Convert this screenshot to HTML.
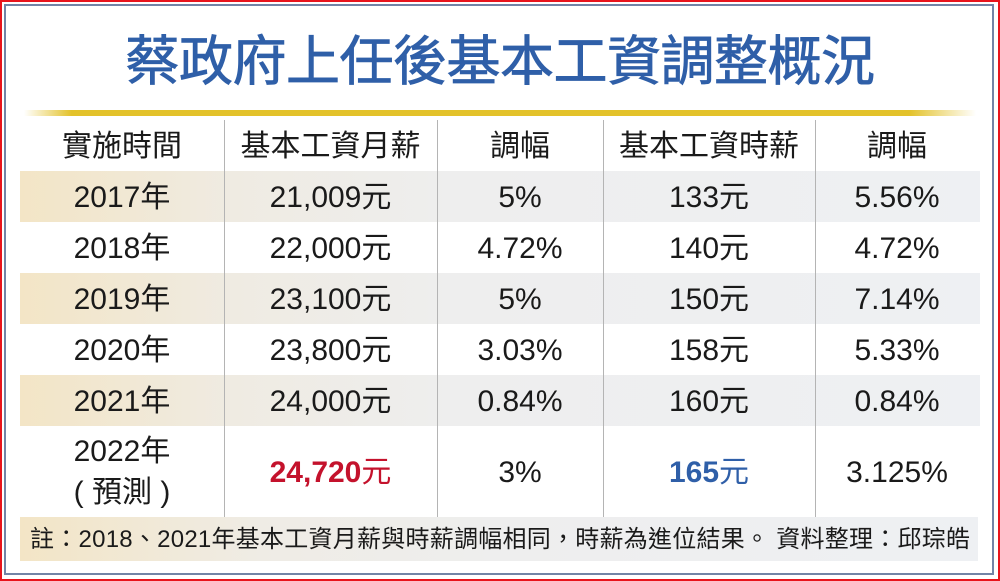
<!DOCTYPE html>
<html><head><meta charset="utf-8">
<style>
*{margin:0;padding:0;box-sizing:border-box}
html,body{width:1000px;height:581px;background:#fff;overflow:hidden}
body{position:relative;font-family:"Liberation Sans","Noto Sans CJK TC",sans-serif;color:#1a1a1a}
.red{position:absolute;left:0;top:0;width:1000px;height:581px;border:2.5px solid #e8141c}
.blue{position:absolute;left:4px;top:4px;width:990px;height:571px;border:2px solid #7384a6}
.title{position:absolute;left:0;top:30px;width:1000px;text-align:center;font-size:54px;line-height:64px;color:#2f5fa8;font-weight:400;letter-spacing:-0.5px;-webkit-text-stroke:0.8px #2f5fa8}
.gold{position:absolute;left:24px;top:110px;width:952px;height:6px;background:linear-gradient(90deg,rgba(227,194,42,0) 0%,#e3c22a 5%,#e3c22a 93%,rgba(227,194,42,0) 100%)}
.stripe{position:absolute;left:20px;width:960px;height:51px;background:linear-gradient(90deg,#f3e5c6 0%,#efebe2 22%,#eeeeee 45%,#eef0f3 100%)}
.vl{position:absolute;top:120px;width:1px;height:397px;background:#b4b4b4}
.c{position:absolute;text-align:center;font-size:30px;white-space:nowrap}
.note{position:absolute;left:20px;top:517px;width:958px;height:44px;background:linear-gradient(90deg,#f3e5c6 0%,#efece5 25%,#eeeeee 50%,#eef0f3 100%)}
.notet{position:absolute;left:30px;top:518px;height:44px;line-height:44px;font-size:24px;white-space:nowrap;color:#1a1a1a;letter-spacing:0.25px}
b.r{color:#c4122c;font-weight:700}
b.bl{color:#2f5fa8;font-weight:700}
</style></head><body>
<div class="red"></div>
<div class="blue"></div>
<div class="title">蔡政府上任後基本工資調整概況</div>
<div class="gold"></div>

<div class="stripe" style="top:171px"></div>
<div class="stripe" style="top:273px"></div>
<div class="stripe" style="top:375px"></div>

<div class="vl" style="left:224px"></div>
<div class="vl" style="left:437px"></div>
<div class="vl" style="left:603px"></div>
<div class="vl" style="left:815px"></div>

<!-- header -->
<div class="c" style="left:20px;width:204px;top:121px;line-height:51px">實施時間</div>
<div class="c" style="left:224px;width:213px;top:121px;line-height:51px">基本工資月薪</div>
<div class="c" style="left:437px;width:166px;top:121px;line-height:51px">調幅</div>
<div class="c" style="left:603px;width:212px;top:121px;line-height:51px">基本工資時薪</div>
<div class="c" style="left:815px;width:164px;top:121px;line-height:51px">調幅</div>

<!-- 2017 -->
<div class="c" style="left:20px;width:204px;top:172px;line-height:51px">2017年</div>
<div class="c" style="left:224px;width:213px;top:172px;line-height:51px">21,009元</div>
<div class="c" style="left:437px;width:166px;top:172px;line-height:51px">5%</div>
<div class="c" style="left:603px;width:212px;top:172px;line-height:51px">133元</div>
<div class="c" style="left:815px;width:164px;top:172px;line-height:51px">5.56%</div>
<!-- 2018 -->
<div class="c" style="left:20px;width:204px;top:223px;line-height:51px">2018年</div>
<div class="c" style="left:224px;width:213px;top:223px;line-height:51px">22,000元</div>
<div class="c" style="left:437px;width:166px;top:223px;line-height:51px">4.72%</div>
<div class="c" style="left:603px;width:212px;top:223px;line-height:51px">140元</div>
<div class="c" style="left:815px;width:164px;top:223px;line-height:51px">4.72%</div>
<!-- 2019 -->
<div class="c" style="left:20px;width:204px;top:274px;line-height:51px">2019年</div>
<div class="c" style="left:224px;width:213px;top:274px;line-height:51px">23,100元</div>
<div class="c" style="left:437px;width:166px;top:274px;line-height:51px">5%</div>
<div class="c" style="left:603px;width:212px;top:274px;line-height:51px">150元</div>
<div class="c" style="left:815px;width:164px;top:274px;line-height:51px">7.14%</div>
<!-- 2020 -->
<div class="c" style="left:20px;width:204px;top:325px;line-height:51px">2020年</div>
<div class="c" style="left:224px;width:213px;top:325px;line-height:51px">23,800元</div>
<div class="c" style="left:437px;width:166px;top:325px;line-height:51px">3.03%</div>
<div class="c" style="left:603px;width:212px;top:325px;line-height:51px">158元</div>
<div class="c" style="left:815px;width:164px;top:325px;line-height:51px">5.33%</div>
<!-- 2021 -->
<div class="c" style="left:20px;width:204px;top:376px;line-height:51px">2021年</div>
<div class="c" style="left:224px;width:213px;top:376px;line-height:51px">24,000元</div>
<div class="c" style="left:437px;width:166px;top:376px;line-height:51px">0.84%</div>
<div class="c" style="left:603px;width:212px;top:376px;line-height:51px">160元</div>
<div class="c" style="left:815px;width:164px;top:376px;line-height:51px">0.84%</div>
<!-- 2022 -->
<div class="c" style="left:20px;width:204px;top:430px;line-height:44px">2022年</div>
<div class="c" style="left:20px;width:204px;top:471px;line-height:44px">( 預測 )</div>
<div class="c" style="left:224px;width:213px;top:447px;line-height:51px"><b class="r">24,720</b><span style="color:#c4122c">元</span></div>
<div class="c" style="left:437px;width:166px;top:447px;line-height:51px">3%</div>
<div class="c" style="left:603px;width:212px;top:447px;line-height:51px"><b class="bl">165</b><span style="color:#2f5fa8">元</span></div>
<div class="c" style="left:815px;width:164px;top:447px;line-height:51px">3.125%</div>

<div class="note"></div>
<div class="notet">註：2018、2021年基本工資月薪與時薪調幅相同，時薪為進位結果。 資料整理：邱琮皓</div>
</body></html>
